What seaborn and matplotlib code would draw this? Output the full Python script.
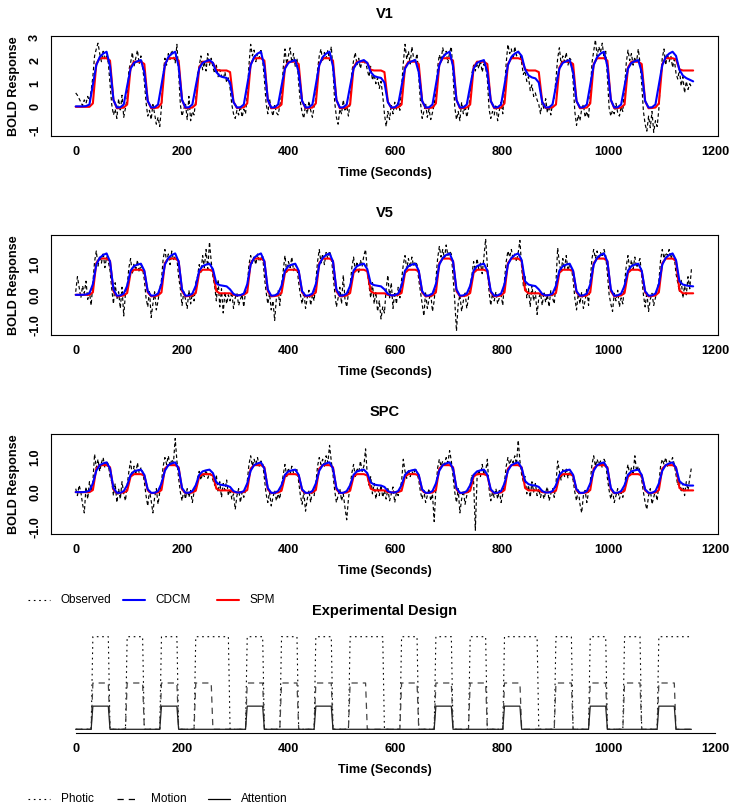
import numpy as np
import matplotlib
matplotlib.use("Agg")
import matplotlib.pyplot as plt
from matplotlib.lines import Line2D
import seaborn as sns

# ---- data ----------------------------------------------------------------
TR = 3.22  # seconds per scan
scan_time = TR * np.arange(360)        # observed + design sampled every scan
fit_time = 2 * TR * np.arange(181)     # fitted curves sampled every 2 scans

# 36 blocks of 10 scans: F fixation, A attention, N no attention, S stationary
block_cond = ['F', 'A', 'F', 'N', 'F', 'A', 'F', 'N', 'S', 'F',
              'A', 'F', 'N', 'F', 'A', 'F', 'N', 'S', 'F', 'N',
              'F', 'A', 'F', 'N', 'F', 'A', 'S', 'F', 'N', 'F',
              'A', 'F', 'N', 'F', 'A', 'S']
photic_on = ['A', 'N', 'S']
motion_on = ['A', 'N']
attention_on = ['A']
design_height = {'Photic': 1.0, 'Motion': 0.5, 'Attention': 0.25}

# observed BOLD, one value per scan (10 per block)
v1_obs = [
    0.6, 0.5, 0.35, 0.2, 0.05, 0.3, 0.15, 0.45, 0.25, 0.7, 1.3, 2.2, 2.5, 2.75, 2.3, 1.95, 2.4, 2.05, 2.2, 1.9,
    1.0, 0.1, -0.35, -0.1, -0.5, 0.35, -0.2, 0.5, -0.45, -0.05, 0.4, 1.6, 1.9, 2.35, 1.75, 2.1, 2.45, 1.85, 2.2, 1.7,
    1.1, 0.2, -0.4, -0.15, -0.55, 0.1, -0.3, -0.75, -0.45, -0.85, 0.0, 1.4, 2.1, 1.8, 2.3, 2.05, 2.45, 2.2, 1.9, 2.7,
    1.5, 0.1, -0.4, -0.1, 0.15, -0.55, 0.45, -0.6, -0.2, -0.35, 0.3, 1.4, 1.75, 2.2, 1.6, 1.95, 1.55, 2.3, 1.8, 2.1,
    1.7, 1.45, 1.8, 1.3, 1.6, 1.35, 1.2, 1.5, 1.05, 1.25, 0.8, 0.1, -0.3, -0.5, -0.15, -0.35, 0.05, -0.45, -0.1, -0.3,
    0.5, 1.8, 2.7, 2.2, 2.45, 1.95, 2.3, 2.1, 2.5, 2.0, 1.2, 0.15, -0.3, 0.35, -0.1, -0.4, 0.1, -0.25, -0.35, 0.05,
    0.5, 1.7, 2.5, 1.85, 2.2, 2.55, 1.9, 2.3, 1.75, 2.1, 1.0, 0.2, -0.25, -0.5, 0.1, -0.3, 0.25, -0.15, -0.45, 0.0,
    0.4, 1.6, 2.2, 2.5, 1.95, 2.35, 2.1, 2.45, 2.0, 2.6, 1.6, 0.2, -0.45, -0.75, -0.1, -0.3, 0.3, -0.2, 0.05, -0.4,
    0.2, 1.5, 2.0, 2.35, 1.8, 2.1, 1.65, 2.0, 1.85, 1.95, 1.6, 1.3, 1.75, 1.15, 1.4, 1.0, 1.25, 0.8, 1.1, 0.5,
    -0.3, -0.85, -0.2, -0.55, 0.1, -0.3, 0.2, -0.1, 0.25, -0.15, 0.9, 1.9, 2.7, 2.05, 2.4, 1.85, 2.6, 2.1, 1.95, 2.3,
    1.3, 0.2, -0.5, -0.2, 0.15, -0.45, -0.1, -0.55, -0.25, 0.1, 0.6, 1.7, 2.25, 2.0, 2.55, 2.2, 2.4, 1.9, 2.35, 2.6,
    1.4, 0.0, -0.55, -0.2, -0.6, 0.2, -0.3, 0.05, -0.45, -0.1, 0.5, 1.45, 1.8, 1.55, 1.9, 1.65, 2.0, 1.5, 1.85, 1.7,
    1.2, -0.1, -0.5, -0.2, -0.35, 0.1, -0.6, -0.15, 0.2, -0.3, 0.7, 1.9, 2.7, 2.3, 2.5, 2.05, 2.6, 2.2, 2.4, 2.3,
    1.9, 1.4, 1.55, 1.1, 1.3, 0.7, 0.95, 0.45, 0.6, 0.3, 0.1, -0.3, 0.2, -0.1, 0.35, -0.25, 0.05, -0.35, 0.15, 0.4,
    1.2, 2.1, 2.55, 1.85, 2.2, 1.95, 2.35, 1.8, 2.1, 2.0, 1.1, -0.2, -0.8, -0.35, -0.6, -0.1, 0.1, -0.45, -0.2, -0.5,
    0.6, 1.9, 2.4, 2.9, 2.2, 2.6, 2.35, 2.75, 2.1, 2.4, 1.3, -0.05, -0.4, -0.15, -0.3, 0.15, -0.25, -0.4, 0.0, -0.2,
    0.8, 1.9, 2.45, 2.0, 2.3, 1.8, 2.15, 1.95, 2.5, 1.9, 1.0, -0.2, -0.75, -1.05, -0.4, -0.9, -0.2, -1.1, -0.6, -0.85,
    -0.1, 1.3, 2.1, 2.5, 1.8, 2.3, 1.95, 2.2, 1.7, 2.05, 1.45, 1.2, 1.6, 0.9, 1.3, 0.6, 1.1, 0.75, 1.0, 0.85,
]
v5_obs = [
    0.1, 0.6, 0.25, -0.1, 0.3, 0.05, 0.45, -0.15, 0.1, -0.35, 0.4, 1.1, 1.45, 0.95, 1.3, 1.05, 1.4, 0.9, 1.25, 1.1,
    0.8, 0.2, -0.3, 0.4, -0.15, 0.1, -0.45, 0.25, -0.7, 0.05, 0.3, 0.9, 1.2, 0.7, 1.05, 0.8, 1.15, 0.75, 1.0, 0.85,
    0.5, -0.1, -0.4, 0.15, -0.75, -0.3, 0.1, -0.5, -0.2, 0.2, 0.5, 1.2, 1.5, 1.1, 1.35, 1.0, 1.45, 1.15, 1.3, 1.2,
    0.6, 0.2, -0.35, 0.1, -0.15, -0.45, 0.15, -0.3, 0.05, -0.2, 0.4, 0.6, 1.0, 0.75, 1.3, 0.9, 1.5, 0.85, 1.75, 1.1,
    0.6, 0.3, -0.2, 0.5, -0.4, 0.2, -0.6, 0.1, -0.3, 0.0, -0.2, 0.1, -0.45, -0.1, 0.05, -0.35, -0.15, 0.0, -0.4, 0.1,
    0.3, 1.0, 1.3, 1.05, 1.25, 1.0, 1.35, 1.1, 1.2, 1.3, 0.6, 0.1, -0.3, 0.05, -0.5, -0.2, -0.85, -0.1, 0.15, -0.35,
    0.3, 0.8, 1.3, 0.75, 1.1, 0.9, 1.25, 0.8, 1.0, 0.9, 0.4, 0.0, -0.3, 0.1, -0.45, -0.1, 0.15, -0.35, 0.0, -0.2,
    0.45, 1.1, 1.5, 1.05, 1.35, 1.0, 1.4, 1.2, 1.45, 1.25, 0.7, 0.1, -0.4, -0.1, 0.25, -0.3, 0.65, -0.15, -0.4, 0.05,
    0.3, 0.9, 1.25, 0.8, 1.1, 0.7, 1.15, 0.95, 1.3, 1.5, 0.8, 0.3, -0.1, 0.4, -0.3, 0.1, -0.55, -0.2, -0.8, -0.4,
    -0.6, 0.2, 0.65, -0.1, 0.4, -0.45, 0.1, -0.3, 0.25, -0.1, 0.5, 1.0, 1.3, 0.85, 1.2, 0.9, 1.25, 0.95, 1.1, 1.0,
    0.5, 0.1, -0.3, -0.7, 0.1, -0.45, -0.15, 0.05, -0.55, -0.2, 0.5, 1.2, 1.6, 1.25, 1.5, 1.2, 1.65, 1.3, 1.45, 1.35,
    0.6, -0.2, -1.2, -0.3, 0.0, -0.55, -0.2, 0.1, -0.45, -0.1, 0.3, 0.65, 1.1, 0.8, 1.2, 0.85, 1.05, 0.7, 1.25, 1.85,
    1.0, 0.1, -0.35, 0.05, -0.2, 0.1, -0.3, -0.1, 0.0, -0.35, 0.5, 1.1, 1.45, 1.25, 1.5, 1.2, 1.35, 1.1, 1.4, 1.8,
    0.9, 0.3, 0.6, -0.1, 0.2, -0.4, 0.3, -0.2, 0.1, -0.65, -0.1, 0.05, -0.35, 0.1, -0.25, 0.0, -0.4, 0.15, -0.1, -0.3,
    0.4, 1.55, 1.05, 0.75, 1.2, 0.85, 1.3, 0.8, 1.0, 0.9, 0.5, -0.1, -0.5, 0.05, -0.3, 0.1, -0.45, -0.2, 0.2, -0.35,
    0.5, 1.2, 1.5, 1.2, 1.45, 1.15, 1.4, 1.25, 1.5, 1.3, 0.7, 0.0, -0.3, -0.55, 0.05, -0.2, 0.15, -0.4, -0.1, -0.3,
    0.4, 0.95, 1.3, 0.8, 1.15, 0.85, 1.25, 0.9, 1.05, 1.2, 0.6, 0.0, -0.4, 0.1, -0.55, -0.15, 0.05, -0.35, -0.1, 0.15,
    0.45, 1.15, 1.5, 1.2, 1.4, 1.3, 1.5, 1.2, 1.35, 1.25, 0.7, 0.4, 0.1, 0.5, -0.1, 0.3, 0.0, 0.6, 0.2, 0.86,
]
spc_obs = [
    0.1, -0.1, 0.2, 0.0, -0.35, -0.6, 0.15, -0.2, 0.3, 0.05, 0.3, 1.1, 0.7, 0.95, 0.6, 0.85, 1.0, 0.7, 0.9, 0.8,
    0.45, 0.3, -0.1, 0.25, -0.3, 0.1, -0.2, 0.3, -0.05, -0.25, 0.2, 0.6, 0.9, 0.45, 0.75, 0.5, 0.85, 0.55, 0.7, 0.6,
    0.3, -0.1, -0.4, 0.05, -0.25, -0.6, -0.15, 0.1, -0.35, 0.0, 0.3, 0.75, 1.0, 0.8, 1.05, 0.75, 0.95, 0.85, 1.55, 0.9,
    0.4, 0.0, -0.25, 0.05, -0.2, 0.1, -0.15, 0.05, -0.3, 0.0, 0.15, 0.4, 0.6, 0.35, 0.55, 0.45, 0.65, 0.4, 0.55, 0.5,
    0.35, 0.2, 0.5, 0.0, 0.3, -0.15, 0.25, 0.05, 0.35, -0.1, 0.1, -0.2, -0.05, -0.5, -0.1, 0.1, -0.3, 0.0, -0.15, 0.05,
    0.3, 0.8, 1.05, 0.75, 0.95, 0.8, 1.0, 0.75, 0.9, 0.85, 0.4, -0.05, -0.3, 0.0, -0.4, -0.15, 0.05, -0.25, -0.05, -0.2,
    0.2, 0.5, 0.8, 0.45, 0.7, 0.5, 0.75, 0.55, 0.6, 0.65, 0.3, -0.1, -0.35, 0.0, -0.55, -0.2, 0.05, -0.3, 0.1, -0.1,
    0.25, 0.75, 1.0, 0.8, 0.95, 0.75, 1.05, 0.85, 1.35, 0.9, 0.5, 0.05, -0.3, -0.1, 0.1, -0.25, -0.05, -0.45, -0.8, -0.2,
    0.2, 0.55, 0.8, 0.45, 0.7, 0.55, 0.9, 0.6, 0.75, 1.25, 0.5, 0.2, 0.45, -0.05, 0.25, -0.2, 0.15, -0.1, 0.2, -0.15,
    0.05, -0.2, 0.1, -0.25, -0.05, 0.15, -0.3, 0.0, -0.1, 0.1, 0.3, 0.95, 0.6, 0.4, 0.65, 0.45, 0.6, 0.5, 0.7, 0.55,
    0.35, 0.0, -0.2, 0.05, -0.3, -0.1, 0.1, -0.25, -0.05, -0.85, 0.1, 0.7, 0.95, 0.75, 0.9, 0.8, 1.0, 0.85, 1.2, 0.9,
    0.45, 0.0, -0.3, 0.1, -0.6, -0.2, 0.05, -0.35, -0.1, 0.0, 0.2, 0.5, 0.3, -1.1, 0.4, 0.65, 0.45, 0.8, 0.5, 0.6,
    0.95, 0.1, -0.25, 0.0, -0.15, 0.1, -0.2, 0.05, -0.3, -0.05, 0.3, 0.75, 1.0, 0.8, 0.95, 0.85, 1.05, 0.8, 1.5, 0.9,
    0.5, 0.3, 0.45, -0.05, 0.2, -0.15, 0.3, 0.0, 0.25, -0.1, 0.1, -0.15, 0.05, -0.2, 0.0, 0.15, -0.25, -0.05, 0.1, -0.15,
    0.25, 0.9, 0.6, 0.35, 0.65, 0.45, 0.7, 0.4, 0.6, 0.5, 0.35, 0.0, -0.25, 0.1, -0.35, -0.6, -0.1, 0.05, -0.3, 0.0,
    0.3, 0.8, 1.05, 0.75, 0.95, 0.8, 0.9, 0.7, 0.95, 0.85, 0.4, 0.05, -0.2, 0.05, -0.3, -0.1, 0.1, -0.2, 0.0, -0.15,
    0.2, 0.55, 0.8, 0.5, 0.7, 0.55, 1.05, 0.6, 0.75, 0.6, 0.35, 0.0, -0.3, -0.5, -0.1, 0.1, -0.35, -0.15, 0.05, -0.25,
    0.25, 0.75, 0.95, 0.8, 1.0, 0.75, 0.9, 0.85, 1.0, 0.8, 0.5, 0.2, 0.35, 0.0, 0.25, -0.1, 0.3, 0.05, 0.4, 0.72,
]

# fitted curves, one value every 2 scans (5 per block) + final point
v1_spm = [
    0, 0, 0, 0, 0, 0.15, 1.85, 2.1, 2.1, 2.1, 2.0, 0.3, -0.06, -0.05, -0.03, 0.1, 1.7, 1.95, 1.95, 1.95,
    1.85, 0.25, -0.06, -0.05, -0.03, 0.15, 1.85, 2.1, 2.1, 2.1, 2.0, 0.3, -0.06, -0.05, -0.03, 0.1, 1.7, 1.95, 1.95, 1.95,
    1.9, 1.6, 1.57, 1.57, 1.57, 1.5, 0.22, -0.05, -0.04, -0.02, 0.15, 1.85, 2.1, 2.1, 2.1, 2.0, 0.3, -0.06, -0.05, -0.03,
    0.1, 1.7, 1.95, 1.95, 1.95, 1.85, 0.25, -0.06, -0.05, -0.03, 0.15, 1.85, 2.1, 2.1, 2.1, 2.0, 0.3, -0.06, -0.05, -0.03,
    0.1, 1.7, 1.95, 1.95, 1.95, 1.9, 1.6, 1.57, 1.57, 1.57, 1.5, 0.22, -0.05, -0.04, -0.02, 0.1, 1.7, 1.95, 1.95, 1.95,
    1.85, 0.25, -0.06, -0.05, -0.03, 0.15, 1.85, 2.1, 2.1, 2.1, 2.0, 0.3, -0.06, -0.05, -0.03, 0.1, 1.7, 1.95, 1.95, 1.95,
    1.85, 0.25, -0.06, -0.05, -0.03, 0.15, 1.85, 2.1, 2.1, 2.1, 2.05, 1.62, 1.57, 1.57, 1.57, 1.5, 0.22, -0.05, -0.04, -0.02,
    0.1, 1.7, 1.95, 1.95, 1.95, 1.85, 0.25, -0.06, -0.05, -0.03, 0.15, 1.85, 2.1, 2.1, 2.1, 2.0, 0.3, -0.06, -0.05, -0.03,
    0.1, 1.7, 1.95, 1.95, 1.95, 1.85, 0.25, -0.06, -0.05, -0.03, 0.15, 1.85, 2.1, 2.1, 2.1, 2.05, 1.62, 1.57, 1.57, 1.57,
    1.57,
]
v1_cdcm = [
    0.02, 0.02, 0.02, 0.03, 0.1, 0.95, 1.8, 2.15, 2.3, 2.38, 1.75, 0.3, -0.03, -0.02, 0.1, 0.9, 1.65, 1.9, 1.97, 2.02,
    1.5, 0.25, -0.03, -0.02, 0.1, 0.95, 1.8, 2.15, 2.3, 2.38, 1.75, 0.3, -0.03, -0.02, 0.1, 0.9, 1.65, 1.9, 1.97, 2.02,
    1.9, 1.5, 1.33, 1.28, 1.25, 1.05, 0.2, -0.03, -0.02, 0.1, 0.95, 1.8, 2.15, 2.3, 2.38, 1.75, 0.3, -0.03, -0.02, 0.1,
    0.9, 1.65, 1.9, 1.97, 2.02, 1.5, 0.25, -0.03, -0.02, 0.1, 0.95, 1.8, 2.15, 2.3, 2.38, 1.75, 0.3, -0.03, -0.02, 0.1,
    0.9, 1.65, 1.9, 1.97, 2.02, 1.9, 1.5, 1.33, 1.28, 1.25, 1.05, 0.2, -0.03, -0.02, 0.1, 0.9, 1.65, 1.9, 1.97, 2.02,
    1.5, 0.25, -0.03, -0.02, 0.1, 0.95, 1.8, 2.15, 2.3, 2.38, 1.75, 0.3, -0.03, -0.02, 0.1, 0.9, 1.65, 1.9, 1.97, 2.02,
    1.5, 0.25, -0.03, -0.02, 0.1, 0.95, 1.8, 2.15, 2.3, 2.38, 2.2, 1.62, 1.36, 1.27, 1.23, 1.05, 0.2, -0.03, -0.02, 0.1,
    0.9, 1.65, 1.9, 1.97, 2.02, 1.5, 0.25, -0.03, -0.02, 0.1, 0.95, 1.8, 2.15, 2.3, 2.38, 1.75, 0.3, -0.03, -0.02, 0.1,
    0.9, 1.65, 1.9, 1.97, 2.02, 1.5, 0.25, -0.03, -0.02, 0.1, 0.95, 1.8, 2.15, 2.3, 2.38, 2.2, 1.6, 1.35, 1.24, 1.17,
    1.1,
]
v5_spm = [
    0, 0, 0, 0, 0, 0.08, 1.05, 1.2, 1.2, 1.2, 1.12, 0.12, -0.05, -0.04, -0.02, 0.06, 0.73, 0.83, 0.83, 0.83,
    0.78, 0.08, -0.05, -0.04, -0.02, 0.08, 1.05, 1.2, 1.2, 1.2, 1.12, 0.12, -0.05, -0.04, -0.02, 0.06, 0.73, 0.83, 0.83, 0.83,
    0.78, 0.12, 0.05, 0.05, 0.05, 0.05, 0.0, -0.02, -0.01, 0.0, 0.08, 1.05, 1.2, 1.2, 1.2, 1.12, 0.12, -0.05, -0.04, -0.02,
    0.06, 0.73, 0.83, 0.83, 0.83, 0.78, 0.08, -0.05, -0.04, -0.02, 0.08, 1.05, 1.2, 1.2, 1.2, 1.12, 0.12, -0.05, -0.04, -0.02,
    0.06, 0.73, 0.83, 0.83, 0.83, 0.78, 0.12, 0.05, 0.05, 0.05, 0.05, 0.0, -0.02, -0.01, 0.0, 0.06, 0.73, 0.83, 0.83, 0.83,
    0.78, 0.08, -0.05, -0.04, -0.02, 0.08, 1.05, 1.2, 1.2, 1.2, 1.12, 0.12, -0.05, -0.04, -0.02, 0.06, 0.73, 0.83, 0.83, 0.83,
    0.78, 0.08, -0.05, -0.04, -0.02, 0.08, 1.05, 1.2, 1.2, 1.2, 1.12, 0.15, 0.05, 0.05, 0.05, 0.05, 0.0, -0.02, -0.01, 0.0,
    0.06, 0.73, 0.83, 0.83, 0.83, 0.78, 0.08, -0.05, -0.04, -0.02, 0.08, 1.05, 1.2, 1.2, 1.2, 1.12, 0.12, -0.05, -0.04, -0.02,
    0.06, 0.73, 0.83, 0.83, 0.83, 0.78, 0.08, -0.05, -0.04, -0.02, 0.08, 1.05, 1.2, 1.2, 1.2, 1.12, 0.15, 0.05, 0.05, 0.05,
    0.05,
]
v5_cdcm = [
    0.0, 0.0, 0.0, 0.01, 0.05, 0.35, 1.0, 1.22, 1.32, 1.37, 1.1, 0.18, -0.03, -0.02, 0.04, 0.3, 0.8, 0.95, 1.0, 1.03,
    0.8, 0.12, -0.03, -0.02, 0.04, 0.35, 1.0, 1.22, 1.32, 1.37, 1.1, 0.18, -0.03, -0.02, 0.04, 0.3, 0.8, 0.95, 1.0, 1.03,
    0.85, 0.38, 0.32, 0.3, 0.28, 0.18, 0.03, -0.02, -0.01, 0.04, 0.35, 1.0, 1.22, 1.32, 1.37, 1.1, 0.18, -0.03, -0.02, 0.04,
    0.3, 0.8, 0.95, 1.0, 1.03, 0.8, 0.12, -0.03, -0.02, 0.04, 0.35, 1.0, 1.22, 1.32, 1.37, 1.1, 0.18, -0.03, -0.02, 0.04,
    0.3, 0.8, 0.95, 1.0, 1.03, 0.85, 0.38, 0.32, 0.3, 0.28, 0.18, 0.03, -0.02, -0.01, 0.04, 0.3, 0.8, 0.95, 1.0, 1.03,
    0.8, 0.12, -0.03, -0.02, 0.04, 0.35, 1.0, 1.22, 1.32, 1.37, 1.1, 0.18, -0.03, -0.02, 0.04, 0.3, 0.8, 0.95, 1.0, 1.03,
    0.8, 0.12, -0.03, -0.02, 0.04, 0.35, 1.0, 1.22, 1.32, 1.37, 1.15, 0.45, 0.34, 0.31, 0.29, 0.18, 0.03, -0.02, -0.01, 0.04,
    0.3, 0.8, 0.95, 1.0, 1.03, 0.8, 0.12, -0.03, -0.02, 0.04, 0.35, 1.0, 1.22, 1.32, 1.37, 1.1, 0.18, -0.03, -0.02, 0.04,
    0.3, 0.8, 0.95, 1.0, 1.03, 0.8, 0.12, -0.03, -0.02, 0.04, 0.35, 1.0, 1.22, 1.32, 1.37, 1.15, 0.45, 0.34, 0.31, 0.29,
    0.28,
]
spc_spm = [
    0, 0, 0, 0, 0, 0.06, 0.68, 0.78, 0.78, 0.78, 0.72, 0.08, -0.03, -0.02, -0.01, 0.04, 0.45, 0.52, 0.52, 0.52,
    0.48, 0.05, -0.03, -0.02, -0.01, 0.06, 0.68, 0.78, 0.78, 0.78, 0.72, 0.08, -0.03, -0.02, -0.01, 0.04, 0.45, 0.52, 0.52, 0.52,
    0.48, 0.1, 0.05, 0.05, 0.05, 0.05, 0.0, -0.01, 0.0, 0.0, 0.06, 0.68, 0.78, 0.78, 0.78, 0.72, 0.08, -0.03, -0.02, -0.01,
    0.04, 0.45, 0.52, 0.52, 0.52, 0.48, 0.05, -0.03, -0.02, -0.01, 0.06, 0.68, 0.78, 0.78, 0.78, 0.72, 0.08, -0.03, -0.02, -0.01,
    0.04, 0.45, 0.52, 0.52, 0.52, 0.48, 0.1, 0.05, 0.05, 0.05, 0.05, 0.0, -0.01, 0.0, 0.0, 0.04, 0.45, 0.52, 0.52, 0.52,
    0.48, 0.05, -0.03, -0.02, -0.01, 0.06, 0.68, 0.78, 0.78, 0.78, 0.72, 0.08, -0.03, -0.02, -0.01, 0.04, 0.45, 0.52, 0.52, 0.52,
    0.48, 0.05, -0.03, -0.02, -0.01, 0.06, 0.68, 0.78, 0.78, 0.78, 0.72, 0.12, 0.05, 0.05, 0.05, 0.05, 0.0, -0.01, 0.0, 0.0,
    0.04, 0.45, 0.52, 0.52, 0.52, 0.48, 0.05, -0.03, -0.02, -0.01, 0.06, 0.68, 0.78, 0.78, 0.78, 0.72, 0.08, -0.03, -0.02, -0.01,
    0.04, 0.45, 0.52, 0.52, 0.52, 0.48, 0.05, -0.03, -0.02, -0.01, 0.06, 0.68, 0.78, 0.78, 0.78, 0.72, 0.12, 0.05, 0.05, 0.05,
    0.05,
]
spc_cdcm = [
    0.0, 0.0, 0.0, 0.01, 0.04, 0.25, 0.62, 0.78, 0.83, 0.86, 0.68, 0.12, -0.02, -0.02, 0.03, 0.2, 0.5, 0.6, 0.63, 0.65,
    0.5, 0.08, -0.02, -0.02, 0.03, 0.25, 0.62, 0.78, 0.83, 0.86, 0.68, 0.12, -0.02, -0.02, 0.03, 0.2, 0.5, 0.6, 0.63, 0.65,
    0.55, 0.28, 0.22, 0.2, 0.19, 0.15, 0.03, -0.01, -0.01, 0.03, 0.25, 0.62, 0.78, 0.83, 0.86, 0.68, 0.12, -0.02, -0.02, 0.03,
    0.2, 0.5, 0.6, 0.63, 0.65, 0.5, 0.08, -0.02, -0.02, 0.03, 0.25, 0.62, 0.78, 0.83, 0.86, 0.68, 0.12, -0.02, -0.02, 0.03,
    0.2, 0.5, 0.6, 0.63, 0.65, 0.55, 0.28, 0.22, 0.2, 0.19, 0.15, 0.03, -0.01, -0.01, 0.03, 0.2, 0.5, 0.6, 0.63, 0.65,
    0.5, 0.08, -0.02, -0.02, 0.03, 0.25, 0.62, 0.78, 0.83, 0.86, 0.68, 0.12, -0.02, -0.02, 0.03, 0.2, 0.5, 0.6, 0.63, 0.65,
    0.5, 0.08, -0.02, -0.02, 0.03, 0.25, 0.62, 0.78, 0.83, 0.86, 0.7, 0.32, 0.23, 0.2, 0.19, 0.15, 0.03, -0.01, -0.01, 0.03,
    0.2, 0.5, 0.6, 0.63, 0.65, 0.5, 0.08, -0.02, -0.02, 0.03, 0.25, 0.62, 0.78, 0.83, 0.86, 0.68, 0.12, -0.02, -0.02, 0.03,
    0.2, 0.5, 0.6, 0.63, 0.65, 0.5, 0.08, -0.02, -0.02, 0.03, 0.25, 0.62, 0.78, 0.83, 0.86, 0.7, 0.32, 0.23, 0.2, 0.19,
    0.19,
]

x_ticks = [0, 200, 400, 600, 800, 1000, 1200]

# ---- style ---------------------------------------------------------------
sns.set_style("white")
plt.rcParams['font.family'] = ['Liberation Sans', 'DejaVu Sans']
plt.rcParams.update({
    'text.color': 'black', 'axes.labelcolor': 'black',
    'xtick.color': 'black', 'ytick.color': 'black',
    'axes.edgecolor': 'black', 'axes.linewidth': 0.8,
})

W, H = 735, 810
fig = plt.figure(figsize=(W / 100, H / 100), dpi=100)


def panel_rect(top, bottom):
    return [51 / W, 1 - bottom / H, (718.3 - 51) / W, (bottom - top) / H]


XLIM = (-46.4, 1206.4)
OBS_LS = (0, (3, 2.2))


def region_panel(rect, title, obs, cdcm, spm, ylim, yticks, ylabels):
    ax = fig.add_axes(rect)
    sns.lineplot(x=scan_time, y=obs, ax=ax, color='black', lw=0.85,
                 linestyle=OBS_LS, estimator=None, errorbar=None)
    sns.lineplot(x=fit_time, y=spm, ax=ax, color='#ff0000', lw=1.5,
                 estimator=None, errorbar=None)
    sns.lineplot(x=fit_time, y=cdcm, ax=ax, color='#0000ff', lw=1.5,
                 estimator=None, errorbar=None)
    ax.set_xlim(*XLIM)
    ax.set_ylim(*ylim)
    ax.set_xticks(x_ticks, [str(t) for t in x_ticks], fontsize=9.1, fontweight='bold')
    ax.set_yticks(yticks, ylabels, fontsize=9.1, fontweight='bold',
                  rotation=90, va='center')
    ax.tick_params(axis='x', direction='out', length=3.6, width=0.75, pad=3.5)
    ax.tick_params(axis='y', direction='out', length=3.6, width=0.75, pad=3.5)
    ax.set_title(title, fontsize=10.5, fontweight='bold', pad=13)
    ax.set_xlabel('Time (Seconds)', fontsize=9.1, fontweight='bold')
    ax.set_ylabel('BOLD Response', fontsize=9.1, fontweight='bold')
    ax.xaxis.set_label_coords(0.5, -0.31)
    ax.yaxis.set_label_coords(-0.046, 0.5)
    return ax


region_panel(panel_rect(36, 136), 'V1', v1_obs, v1_cdcm, v1_spm,
             (-1.26, 3.06), [-1, 0, 1, 2, 3], ['-1', '0', '1', '2', '3'])
half_ticks = [-1.0, -0.5, 0.0, 0.5, 1.0, 1.5]
half_labels = ['-1.0', '', '0.0', '', '1.0', '']
region_panel(panel_rect(235, 335), 'V5', v5_obs, v5_cdcm, v5_spm,
             (-1.33, 1.98), half_ticks, half_labels)
region_panel(panel_rect(434, 534), 'SPC', spc_obs, spc_cdcm, spc_spm,
             (-1.21, 1.68), half_ticks, half_labels)

# ---- experimental design ---------------------------------------------------
scan_cond = np.repeat(block_cond, 10)
photic = np.isin(scan_cond, photic_on) * design_height['Photic']
motion = np.isin(scan_cond, motion_on) * design_height['Motion']
attention = np.isin(scan_cond, attention_on) * design_height['Attention']

PHOTIC_LS = (0, (1.5, 3.3))
MOTION_LS = (0, (5, 4))

axd = fig.add_axes(panel_rect(633, 733))
sns.lineplot(x=scan_time, y=photic, ax=axd, color='black', lw=0.8,
             linestyle=PHOTIC_LS, estimator=None, errorbar=None)
sns.lineplot(x=scan_time, y=motion, ax=axd, color='#444444', lw=0.9,
             linestyle=MOTION_LS, estimator=None, errorbar=None)
sns.lineplot(x=scan_time, y=attention, ax=axd, color='#222222', lw=0.9,
             estimator=None, errorbar=None)
axd.set_xlim(*XLIM)
axd.set_ylim(-0.04, 1.04)
for side in ['left', 'right', 'top']:
    axd.spines[side].set_visible(False)
axd.spines['bottom'].set_bounds(0, 1200)
axd.set_yticks([])
axd.set_xticks(x_ticks, [str(t) for t in x_ticks], fontsize=9.1, fontweight='bold')
axd.tick_params(axis='x', direction='out', length=3.6, width=0.75, pad=3.5)
axd.set_title('Experimental Design', fontsize=10.5, fontweight='bold', pad=13)
axd.set_xlabel('Time (Seconds)', fontsize=9.1, fontweight='bold')
axd.xaxis.set_label_coords(0.5, -0.31)


# ---- legends (R style, horizontal, no frame) ------------------------------
def legend_item(x_line, x_text, y, label, **line_kw):
    yf = 1 - y / H
    fig.add_artist(Line2D([x_line / W, (x_line + 22) / W], [yf, yf],
                          transform=fig.transFigure, **line_kw))
    fig.text(x_text / W, yf, label, fontsize=8.5, va='center', ha='left')


legend_item(28, 60.5, 600, 'Observed', color='black', lw=0.8, linestyle=PHOTIC_LS)
legend_item(123, 155, 600, 'CDCM', color='#0000ff', lw=1.5)
legend_item(217, 250, 600, 'SPM', color='#ff0000', lw=1.5)

legend_item(28, 60.5, 799, 'Photic', color='black', lw=0.8, linestyle=PHOTIC_LS)
legend_item(117, 150.5, 799, 'Motion', color='black', lw=0.9, linestyle=MOTION_LS)
legend_item(208, 241, 799, 'Attention', color='black', lw=0.9)

fig.savefig('out.png', dpi=100)
